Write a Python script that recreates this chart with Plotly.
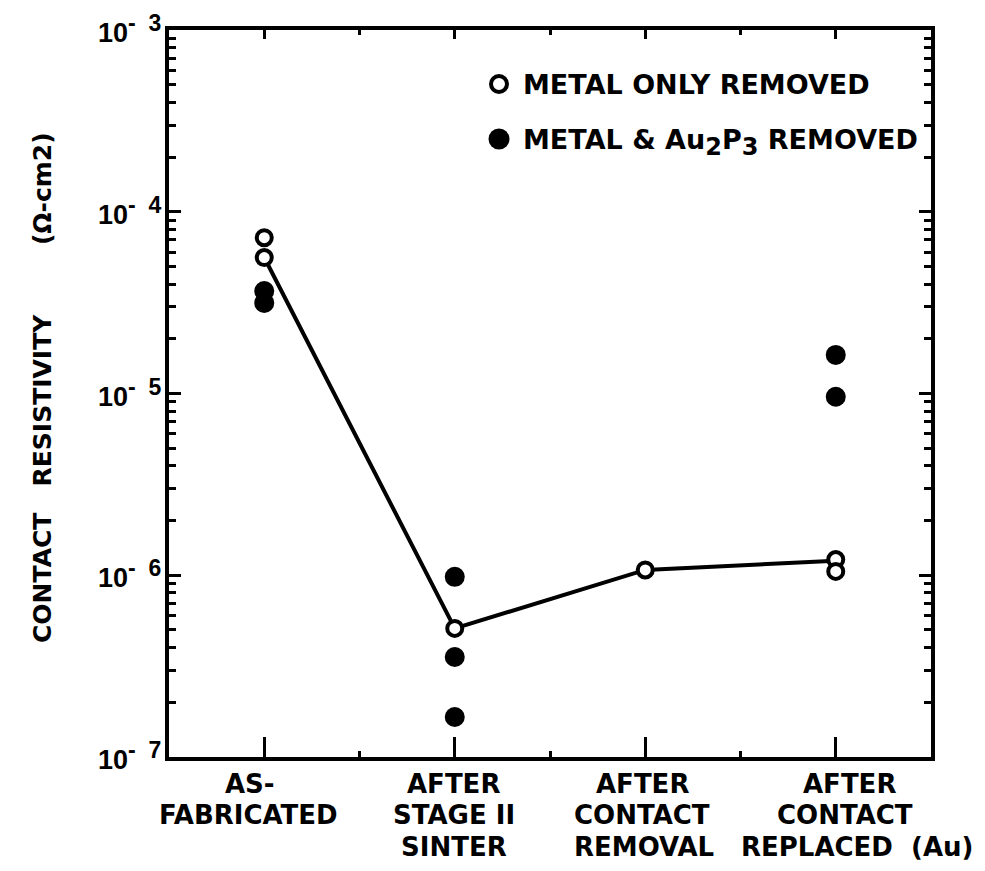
import math
import plotly.graph_objects as go

# ---- data ----
categories = ["AS-<br>FABRICATED", "AFTER<br>STAGE II<br>SINTER",
              "AFTER<br>CONTACT<br>REMOVAL", "AFTER<br>CONTACT<br>REPLACED  (Au)"]
cat_pos = [1, 2, 3, 4]

metal_only_x = [1, 1, 2, 3, 4, 4]
metal_only_y = [7.2e-5, 5.6e-5, 5.1e-7, 1.07e-6, 1.22e-6, 1.05e-6]

metal_au_x = [1, 1, 2, 2, 2, 4, 4]
metal_au_y = [3.66e-5, 3.15e-5, 9.8e-7, 3.55e-7, 1.66e-7, 1.63e-5, 9.6e-6]

trend_x = [1, 2, 3, 4]
trend_y = [5.6e-5, 5.1e-7, 1.07e-6, 1.2e-6]

ytick_vals = [1e-7, 1e-6, 1e-5, 1e-4, 1e-3]
ytick_exp = ["7", "6", "5", "4", "3"]

legend_labels = ["METAL ONLY REMOVED",
                 "METAL &amp; Au<sub><span style='font-size:24px'>2</span></sub>"
                 "P<sub><span style='font-size:24px'>3</span></sub> REMOVED"]
y_title = "CONTACT   RESISTIVITY        (Ω-cm2)"

FONT = "DejaVu Sans"
NUMFONT = "Liberation Sans"
minor_y = [m * 10.0 ** e for e in range(-7, -3) for m in range(2, 10)]

# ---- page geometry (browser body has an 8px margin) ----
OFF = 8
W, H = 969, 855
L, R, T, B = 161, 46, 22, 106
PW, PH = W - L - R, H - T - B


def px2x(px):
    return (px - OFF - L) / PW


def py2y(py):
    return (H - B - (py - OFF)) / PH


fig = go.Figure()
fig.add_trace(go.Scatter(x=trend_x, y=trend_y, mode="lines",
                         line=dict(color="black", width=4), showlegend=False))
fig.add_trace(go.Scatter(x=metal_only_x, y=metal_only_y, mode="markers",
                         marker=dict(symbol="circle", size=15, color="white",
                                     line=dict(color="black", width=4)),
                         name="METAL ONLY REMOVED", showlegend=False))
fig.add_trace(go.Scatter(x=metal_au_x, y=metal_au_y, mode="markers",
                         marker=dict(symbol="circle", size=20, color="black",
                                     line=dict(color="black", width=0)),
                         name="METAL & Au2P3 REMOVED", showlegend=False))
# invisible trace so the top axis is drawn
fig.add_trace(go.Scatter(x=[None], y=[None], xaxis="x2", showlegend=False))

axis_common = dict(showline=True, linecolor="black", linewidth=4,
                   showgrid=False, zeroline=False, ticks="inside",
                   tickcolor="black", tickwidth=3, automargin=False)

fig.update_layout(
    width=W, height=H,
    margin=dict(l=L, r=R, t=T, b=B, autoexpand=False),
    paper_bgcolor="white", plot_bgcolor="white",
    font=dict(family=FONT, size=25, color="black", weight="bold"),
    xaxis=dict(**axis_common, range=[0.5, 4.5], tickvals=cat_pos,
               showticklabels=False, ticklen=20, mirror=True,
               minor=dict(tickvals=[1.5, 2.5, 3.5], ticks="inside", ticklen=6,
                          tickwidth=3, tickcolor="black", showgrid=False)),
    xaxis2=dict(overlaying="x", side="top", range=[0.5, 4.5], tickvals=cat_pos,
                showticklabels=False, ticks="inside", ticklen=9, tickwidth=3,
                tickcolor="black", showgrid=False, zeroline=False, showline=False,
                automargin=False,
                minor=dict(tickvals=[1.5, 2.5, 3.5], ticks="inside", ticklen=5,
                           tickwidth=3, tickcolor="black", showgrid=False)),
    yaxis=dict(**axis_common, type="log", range=[-7, -3], tickvals=ytick_vals,
               showticklabels=False, ticklen=12, mirror="ticks",
               minor=dict(tickvals=minor_y, ticks="inside", ticklen=7,
                          tickwidth=3, tickcolor="black", showgrid=False)),
)

# y tick labels: "10" centred on the tick, exponent raised above it
for v, e in zip(ytick_vals, ytick_exp):
    fig.add_annotation(x=px2x(163), y=math.log10(v), xref="paper", yref="y",
                       text="10<sup><span style='font-size:23px'>-  %s</span></sup>" % e,
                       showarrow=False, xanchor="right", yanchor="middle", yshift=1,
                       font=dict(family=NUMFONT, size=27, weight="bold"))

# category labels, one annotation per line
line_y = [784, 815, 847]
line_xshift = [[-14, -16], [-1, -1, -1], [-3, -3, -1], [14, 9, 21]]
for pos, lab, shs in zip(cat_pos, categories, line_xshift):
    for k, (txt, sh) in enumerate(zip(lab.split("<br>"), shs)):
        fig.add_annotation(x=pos, y=py2y(line_y[k]), xref="x", yref="paper",
                           text=txt, showarrow=False, xanchor="center",
                           yanchor="middle", xshift=sh,
                           font=dict(family=FONT, size=26, weight="bold"))

# y title
fig.add_annotation(x=px2x(42), y=py2y(388), xref="paper", yref="paper", text=y_title,
                   textangle=-90, showarrow=False, xanchor="center", yanchor="middle",
                   font=dict(family=FONT, size=25, weight="bold"))

# legend
leg_sym_x = [499, 499]
leg_sym_y = [84, 139]
leg_text_x = 521
leg_text_y = [84, 142]
for i, lab in enumerate(legend_labels):
    fig.add_annotation(x=px2x(leg_text_x), y=py2y(leg_text_y[i]),
                       xref="paper", yref="paper", text=lab,
                       showarrow=False, xanchor="left", yanchor="middle",
                       font=dict(family=FONT, size=27, weight="bold"))
# legend symbols
fig.add_shape(type="circle", xref="paper", yref="paper",
              xsizemode="pixel", ysizemode="pixel",
              xanchor=px2x(leg_sym_x[0]), yanchor=py2y(leg_sym_y[0]),
              x0=-8, x1=8, y0=-8, y1=8,
              line=dict(color="black", width=4), fillcolor="white")
fig.add_shape(type="circle", xref="paper", yref="paper",
              xsizemode="pixel", ysizemode="pixel",
              xanchor=px2x(leg_sym_x[1]), yanchor=py2y(leg_sym_y[1]),
              x0=-10.5, x1=10.5, y0=-10.5, y1=10.5,
              line=dict(color="black", width=0), fillcolor="black")

fig.write_html("out.html")
